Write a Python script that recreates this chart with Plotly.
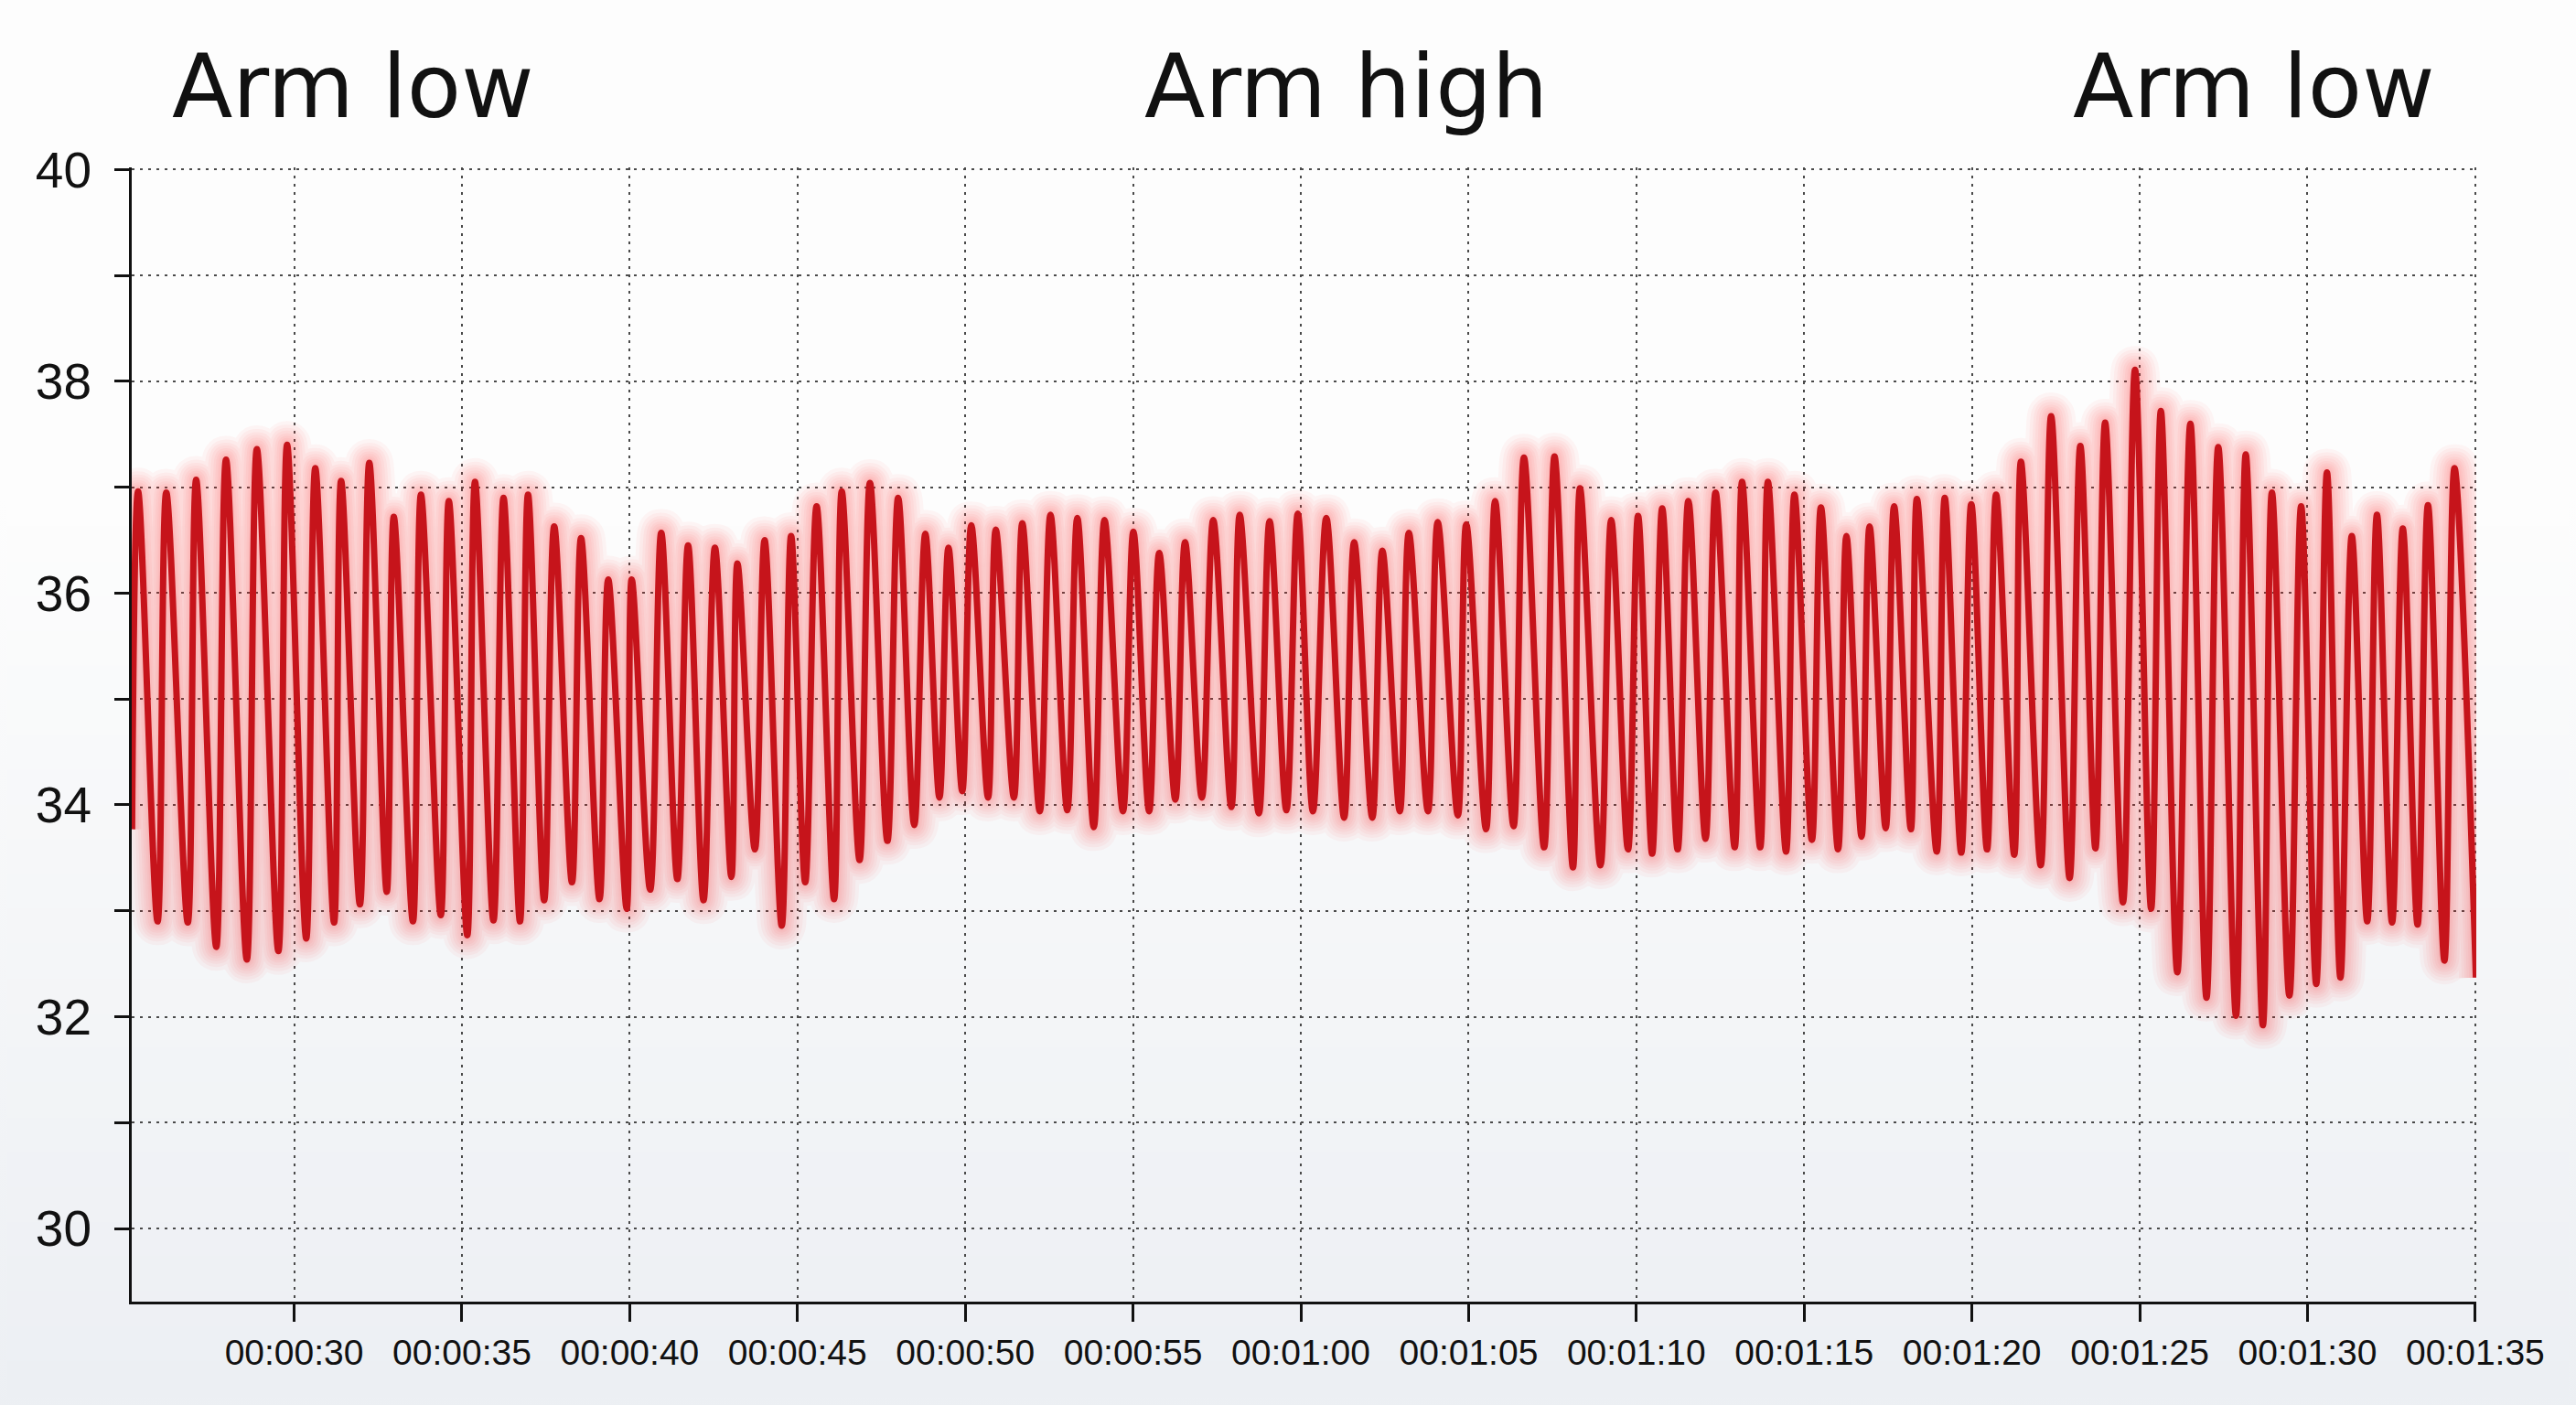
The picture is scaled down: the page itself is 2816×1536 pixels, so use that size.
import plotly.graph_objects as go

# ---- data (seconds, value) ----
trough_t = [25.17, 25.93, 26.83, 27.68, 28.59, 29.53, 30.36, 31.19, 31.96, 32.76, 33.54, 34.37,
            35.16, 35.94, 36.73, 37.45, 38.28, 39.10, 39.91, 40.61, 41.42, 42.20, 43.03, 43.73,
            44.53, 45.23, 46.09, 46.85, 47.68, 48.48, 49.23, 49.91, 50.68, 51.45, 52.22, 53.04,
            53.83, 54.70, 55.48, 56.26, 57.05, 57.93, 58.75, 59.57, 60.36, 61.29, 62.13, 62.95,
            63.79, 64.68, 65.52, 66.34, 67.25, 68.11, 68.93, 69.75, 70.47, 71.23, 72.06, 72.93,
            73.69, 74.46, 75.23, 76.01, 76.71, 77.43, 78.18, 78.95, 79.68, 80.45, 81.26, 82.05,
            82.91, 83.68, 84.50, 85.34, 86.12, 86.99, 87.87, 88.67, 89.46, 90.26, 90.98, 91.78,
            92.52, 93.28, 94.08, 95.02]
trough_v = [33.77, 32.90, 32.89, 32.66, 32.54, 32.62, 32.74, 32.89, 33.06, 33.18, 32.90, 32.96,
            32.77, 32.91, 32.90, 33.10, 33.27, 33.11, 33.02, 33.20, 33.30, 33.10, 33.32, 33.58,
            32.86, 33.27, 33.11, 33.48, 33.66, 33.81, 34.07, 34.13, 34.07, 34.07, 33.94, 33.95,
            33.79, 33.94, 33.94, 34.05, 34.07, 33.98, 33.92, 33.95, 33.94, 33.88, 33.88, 33.94,
            33.94, 33.90, 33.77, 33.80, 33.60, 33.41, 33.43, 33.58, 33.54, 33.58, 33.68, 33.60,
            33.60, 33.56, 33.67, 33.58, 33.70, 33.78, 33.77, 33.56, 33.55, 33.58, 33.53, 33.43,
            33.31, 33.59, 33.08, 33.02, 32.42, 32.18, 32.01, 31.92, 32.20, 32.31, 32.37, 32.90,
            32.89, 32.87, 32.53, 32.37]

peak_t = [25.35, 26.19, 27.08, 27.97, 28.89, 29.79, 30.63, 31.40, 32.24, 32.97, 33.78, 34.61,
          35.39, 36.24, 36.97, 37.75, 38.55, 39.36, 40.06, 40.94, 41.74, 42.54, 43.21, 44.02,
          44.81, 45.57, 46.32, 47.16, 48.00, 48.81, 49.50, 50.18, 50.91, 51.70, 52.54, 53.34,
          54.15, 55.01, 55.78, 56.55, 57.39, 58.18, 59.07, 59.91, 60.76, 61.59, 62.43, 63.22,
          64.08, 64.93, 65.79, 66.65, 67.56, 68.32, 69.25, 70.05, 70.77, 71.55, 72.36, 73.15,
          73.92, 74.71, 75.50, 76.26, 76.95, 77.68, 78.36, 79.19, 79.98, 80.72, 81.46, 82.36,
          83.23, 83.97, 84.86, 85.63, 86.51, 87.34, 88.16, 88.94, 89.81, 90.58, 91.32, 92.07,
          92.84, 93.59, 94.38]
peak_v = [36.96, 36.95, 37.07, 37.26, 37.36, 37.40, 37.18, 37.06, 37.23, 36.72, 36.93, 36.87,
          37.05, 36.90, 36.93, 36.63, 36.52, 36.13, 36.13, 36.57, 36.45, 36.43, 36.28, 36.50,
          36.54, 36.82, 36.96, 37.04, 36.90, 36.56, 36.43, 36.64, 36.60, 36.66, 36.74, 36.71,
          36.69, 36.58, 36.38, 36.48, 36.69, 36.74, 36.68, 36.75, 36.71, 36.48, 36.40, 36.57,
          36.67, 36.65, 36.87, 37.28, 37.29, 36.99, 36.69, 36.73, 36.80, 36.87, 36.95, 37.05,
          37.05, 36.93, 36.81, 36.54, 36.63, 36.82, 36.89, 36.90, 36.84, 36.93, 37.24, 37.67,
          37.39, 37.61, 38.11, 37.72, 37.60, 37.38, 37.31, 36.95, 36.82, 37.14, 36.54, 36.74,
          36.61, 36.83, 37.18]

x_tick_vals = [30, 35, 40, 45, 50, 55, 60, 65, 70, 75, 80, 85, 90, 95]
x_tick_text = ["00:00:30", "00:00:35", "00:00:40", "00:00:45", "00:00:50", "00:00:55",
               "00:01:00", "00:01:05", "00:01:10", "00:01:15", "00:01:20", "00:01:25",
               "00:01:30", "00:01:35"]
y_tick_vals = [30, 31, 32, 33, 34, 35, 36, 37, 38, 39, 40]
y_tick_text = ["30", "", "32", "", "34", "", "36", "", "38", "", "40"]

section_labels = ["Arm low", "Arm high", "Arm low"]
section_x = [0.0944, 0.518, 0.905]

# ---- merge extremes into one time-ordered series ----
pts = sorted(list(zip(trough_t, trough_v)) + list(zip(peak_t, peak_v)))
t = [p[0] for p in pts]
v = [p[1] for p in pts]

fig = go.Figure()
glow_widths = [52, 44, 37, 31, 25, 20, 15, 11]
for w in glow_widths:
    fig.add_trace(go.Scatter(x=t, y=v, mode="lines",
                             line=dict(color="rgba(250,40,40,0.045)", width=w, shape="spline", smoothing=1.0),
                             hoverinfo="skip", showlegend=False))
fig.add_trace(go.Scatter(x=t, y=v, mode="lines", line=dict(color="#c6141b", width=7, shape="spline", smoothing=1.0),
                         showlegend=False))

# ---- background gradient ----
W, H = 2800, 1520
ml, mr, mt, mb = 136, 101, 175, 105
ph = H - mt - mb
top_p = 1 + mt / ph
bot_p = -mb / ph
n = 40
shapes = []
c0 = (253, 253, 253)
c1 = (236, 239, 243)
for i in range(n):
    f0 = i / n
    f1 = (i + 1) / n
    fm = (f0 + f1) / 2
    k = max(0.0, (fm - 0.35) / 0.65)
    col = tuple(round(c0[j] + (c1[j] - c0[j]) * k) for j in range(3))
    y_hi = top_p - (top_p - bot_p) * f0
    y_lo = top_p - (top_p - bot_p) * f1
    shapes.append(dict(type="rect", xref="paper", yref="paper", x0=-0.1, x1=1.1, y0=y_lo - 0.002, y1=y_hi + 0.002,
                       fillcolor="rgb(%d,%d,%d)" % col, line=dict(width=0), layer="below"))

annotations = [dict(text=s, x=x, y=1.071, xref="paper", yref="paper", xanchor="center", yanchor="middle",
                    showarrow=False, font=dict(family="DejaVu Sans", size=97, color="#111111"))
               for s, x in zip(section_labels, section_x)]

grid = dict(showgrid=True, gridcolor="#4a4a4a", gridwidth=2, griddash="3px,6px")
fig.update_layout(
    width=W, height=H,
    margin=dict(l=ml, r=mr, t=mt, b=mb),
    paper_bgcolor="rgba(0,0,0,0)", plot_bgcolor="rgba(0,0,0,0)",
    shapes=shapes, annotations=annotations,
    xaxis=dict(range=[25.16, 95.03], tickvals=x_tick_vals, ticktext=x_tick_text,
               showline=True, linecolor="#111111", linewidth=3, ticks="outside", ticklen=19,
               tickwidth=3, tickcolor="#111111", zeroline=False,
               tickfont=dict(family="Liberation Sans, Arial", size=39, color="#111111"), **grid),
    yaxis=dict(range=[29.31, 40.02], tickvals=y_tick_vals, ticktext=y_tick_text,
               showline=True, linecolor="#111111", linewidth=3, ticks="outside", ticklen=16,
               tickwidth=3, tickcolor="#111111", zeroline=False, ticklabelstandoff=14,
               tickfont=dict(family="Liberation Sans, Arial", size=55, color="#111111"), **grid),
)

page_bg = ("document.body.style.background="
           "'linear-gradient(to bottom, rgb(253,253,253) 0%, rgb(253,253,253) 35%, rgb(236,239,243) 100%)';"
           "document.body.style.minHeight='100vh';")
fig.write_html("out.html", post_script=page_bg)
